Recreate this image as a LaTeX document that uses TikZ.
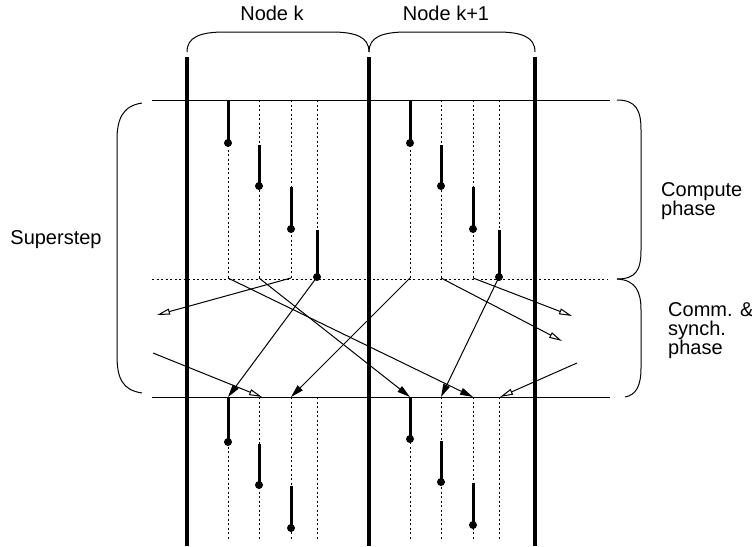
\documentclass[tikz,border=0pt]{standalone}
\usepackage{fontspec}
\setmainfont{Liberation Sans}
\usetikzlibrary{arrows.meta}

\tikzset{
  nodeline/.style={line width=4pt},
  busy/.style={line width=3pt},
  idle/.style={line width=1pt, dash pattern=on 2pt off 2.5pt},
  thin/.style={line width=1pt},
  msg/.style={line width=1pt, -{Triangle[length=13pt,width=7pt]}},
  extmsg/.style={line width=1pt, -{Triangle[open,length=13pt,width=6pt]}},
  lbl/.style={font=\fontsize{20}{19}\selectfont, align=left, inner sep=0pt}
}

\begin{document}
\begin{tikzpicture}[x=1pt,y=-1pt]
    \useasboundingbox (0,0) rectangle (752,546);

    \node[lbl] (nodek) at (272,13) {Node k};
    \node[lbl] (nodek1) at (446,13) {Node k+1};
    \node[lbl] (superstep) at (56,240) {Superstep};
    \node[lbl, anchor=west] (compute) at (661,201) {Compute\\phase};
    \node[lbl, anchor=west] (comm) at (668,331) {Comm. \&\\synch.\\phase};

    \draw[thin] (187,52) .. controls (187,37) and (200,32) .. (225,32) -- (331,32)
        .. controls (356,32) and (369,37) .. (369,52);
    \draw[thin] (369,52) .. controls (369,37) and (382,32) .. (407,32) -- (497,32)
        .. controls (522,32) and (535,37) .. (535,52);
    \draw[thin] (142,103) .. controls (122,106) and (117,120) .. (117,140) -- (117,355)
        .. controls (117,378) and (122,390) .. (142,393);
    \draw[thin] (617,100) .. controls (636,100) and (641,110) .. (641,130) -- (641,250)
        .. controls (641,270) and (636,279) .. (617,279);
    \draw[thin] (617,279) .. controls (636,280) and (641,292) .. (641,310) -- (641,368)
        .. controls (641,386) and (636,395) .. (625,397);

    \draw[thin] (152,100) -- (610,100);
    \draw[idle] (152,279) -- (607,279);
    \draw[thin] (152,397) -- (610,397);

    \foreach \x in {187,369,535}
        \draw[nodeline] (\x,57) -- (\x,546);

    \foreach \x in {228,259,291,317,410,441,473,499} {
        \draw[idle] (\x,100) -- (\x,279);
        \draw[idle] (\x,397) -- (\x,540);
    }

    \foreach \x/\s/\e in {228/100/143, 259/145/186, 291/187/229, 317/230/277,
                          410/100/143, 441/145/186, 473/187/229, 499/230/277,
                          228/397/442, 259/444/485, 291/486/528,
                          410/397/439, 441/441/482, 473/483/525} {
        \draw[busy] (\x,\s) -- (\x,\e);
        \fill (\x,\e) circle (4pt);
    }

    \coordinate (ka1) at (228,278);
    \coordinate (ka2) at (259,278);
    \coordinate (ka3) at (291,278);
    \coordinate (ka4) at (317,277);
    \coordinate (la1) at (410,278);
    \coordinate (la2) at (441,278);
    \coordinate (la3) at (473,278);
    \coordinate (la4) at (499,277);

    \coordinate (kb1) at (228,397);
    \coordinate (kb2) at (262,397);
    \coordinate (kb3) at (291,397);
    \coordinate (lb1) at (410,397);
    \coordinate (lb2) at (441,397);
    \coordinate (lb3) at (473,397);
    \coordinate (lb4) at (500,397);

    \coordinate (wl1) at (157,315);
    \coordinate (wl2) at (153,353);
    \coordinate (er1) at (572,316);
    \coordinate (er2) at (562,341);
    \coordinate (er3) at (577,363);

    \draw[msg] (ka1) -- (lb3);
    \draw[msg] (ka2) -- (lb1);
    \draw[extmsg] (ka3) -- (wl1);
    \draw[msg] (ka4) -- (kb1);
    \draw[msg] (la1) -- (kb3);
    \draw[extmsg] (la2) -- (er2);
    \draw[extmsg] (la3) -- (er1);
    \draw[msg] (la4) -- (lb2);
    \draw[extmsg] (wl2) -- (kb2);
    \draw[extmsg] (er3) -- (lb4);
\end{tikzpicture}
\end{document}
